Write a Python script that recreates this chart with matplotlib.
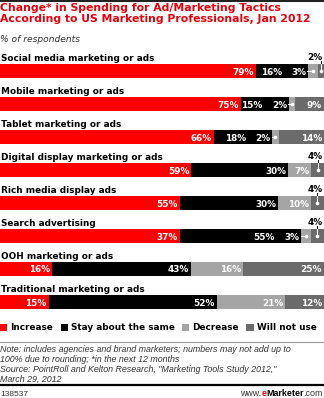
import numpy as np
import matplotlib.pyplot as plt
from matplotlib.lines import Line2D

categories = ['Social media marketing or ads', 'Mobile marketing or ads',
              'Tablet marketing or ads', 'Digital display marketing or ads',
              'Rich media display ads', 'Search advertising',
              'OOH marketing or ads', 'Traditional marketing or ads']
increase = [79, 75, 66, 59, 55, 37, 16, 15]
same = [16, 15, 18, 30, 30, 55, 43, 52]
decrease = [3, 2, 2, 7, 10, 3, 16, 21]
will_not_use = [2, 9, 14, 4, 4, 4, 25, 12]
series_names = ['Increase', 'Stay about the same', 'Decrease', 'Will not use']
colors = ['#ff0000', '#000000', '#a5a5a5', '#6b6b6b']

W, H = 324, 398
fig = plt.figure(figsize=(W / 100, H / 100), dpi=100)
fy = lambda px: 1 - px / H
fx = lambda px: px / W

values = np.array([increase, same, decrease, will_not_use], dtype=float)
drawn = values.copy()
# the source chart draws the search advertising bar with red/black lengths swapped
drawn[[0, 1], 5] = drawn[[1, 0], 5]
widths = drawn / drawn.sum(axis=0) * 100
lefts = np.vstack([np.zeros(len(categories)), np.cumsum(widths, axis=0)[:-1]])

# rows centered at 71 + 33*i px
ax = fig.add_axes([0, (H - 335) / H, 1, 297 / H])
ax.set_xlim(0, 100)
ax.set_ylim(8, -1)
ax.axis('off')

rows = np.arange(len(categories))
bh = 14 / 33
bars = []
for k in range(4):
    bars.append(ax.barh(rows, widths[k], left=lefts[k], height=bh,
                        color=colors[k], label=series_names[k], linewidth=0))

fs = 6.4
for i, cat in enumerate(categories):
    ax.text(0.3, i - 0.3, cat, fontsize=fs, fontweight='bold', va='baseline', ha='left')

px = 100 / W  # one pixel in data units
for i in rows:
    small_dec = values[2, i] < 5
    for k in range(4):
        v = int(values[k, i])
        end = lefts[k, i] + widths[k, i]
        lab = f'{v}%'
        if k == 2 and small_dec:
            xs = lefts[k, i]
            xc = xs + widths[k, i] / 2
            ax.text(xs - 1.5 * px, i, lab, color='white', fontsize=fs, fontweight='bold',
                    ha='right', va='center_baseline')
            ax.plot([xs - 0.5 * px, xc], [i, i], color='white', lw=0.7)
            ax.plot(xc, i, 'o', color='white', ms=2.6, mew=0)
        elif k == 3 and values[k, i] < 5:
            xc = lefts[k, i] + widths[k, i] / 2
            ax.text(99.6, i - 0.32, lab, color='black', fontsize=fs, fontweight='bold',
                    ha='right', va='baseline')
            ax.plot([xc, xc], [i - 0.3, i - bh / 2], color='black', lw=0.7)
            ax.plot([xc, xc], [i - bh / 2, i], color='white', lw=0.7)
            ax.plot(xc, i, 'o', color='white', ms=2.6, mew=0)
        else:
            off = 2 * px
            if k == 1 and small_dec:
                off = 26 * px
            ax.text(end - off, i, lab, color='white', fontsize=fs, fontweight='bold',
                    ha='right', va='center_baseline')

# title block
fig.add_artist(Line2D([0, 1], [fy(1), fy(1)], color='#222222', lw=1.5))
fig.text(fx(0), fy(3), 'Change* in Spending for Ad/Marketing Tactics\n'
         'According to US Marketing Professionals, Jan 2012',
         color='#e8000b', fontsize=7.8, fontweight='bold', va='top', ha='left',
         linespacing=1.1)
fig.text(fx(0), fy(42), '% of respondents', fontsize=6.6, style='italic',
         color='#333333', va='baseline', ha='left')

# legend
fig.legend(handles=bars, labels=series_names, loc='center left',
           bbox_to_anchor=(0, fy(328)), ncol=4, frameon=False,
           prop={'size': fs, 'weight': 'bold'}, handlelength=0.8, handleheight=0.8,
           handletextpad=0.35, columnspacing=0.85, borderaxespad=0, borderpad=0)

fig.add_artist(Line2D([0, 1], [fy(342), fy(342)], color='#999999', lw=0.8))
fig.text(fx(0), fy(345), 'Note: includes agencies and brand marketers; numbers may not add up to\n'
         '100% due to rounding; *in the next 12 months\n'
         'Source: PointRoll and Kelton Research, "Marketing Tools Study 2012,"\n'
         'March 29, 2012', fontsize=6.4, style='italic', family='Liberation Sans',
         color='#333333', va='top', ha='left', linespacing=1.12)
fig.add_artist(Line2D([0, 1], [fy(385), fy(385)], color='#000000', lw=1.6))
fig.text(fx(0), fy(396), '138537', fontsize=6, family='Liberation Sans',
         color='#333333', va='baseline', ha='left')

# www.eMarketer.com built right to left
fig.canvas.draw()
r = fig.canvas.get_renderer()
x = W - 1
for txt, col, wt in [('.com', '#333333', 'normal'), ('Marketer', '#000000', 'bold'),
                     ('e', '#ff0000', 'bold'), ('www.', '#333333', 'normal')]:
    t = fig.text(fx(x), fy(396), txt, fontsize=6.4, family='Liberation Sans',
                 color=col, fontweight=wt, va='baseline', ha='right')
    x -= t.get_window_extent(r).width

fig.savefig('out.png', dpi=100)
